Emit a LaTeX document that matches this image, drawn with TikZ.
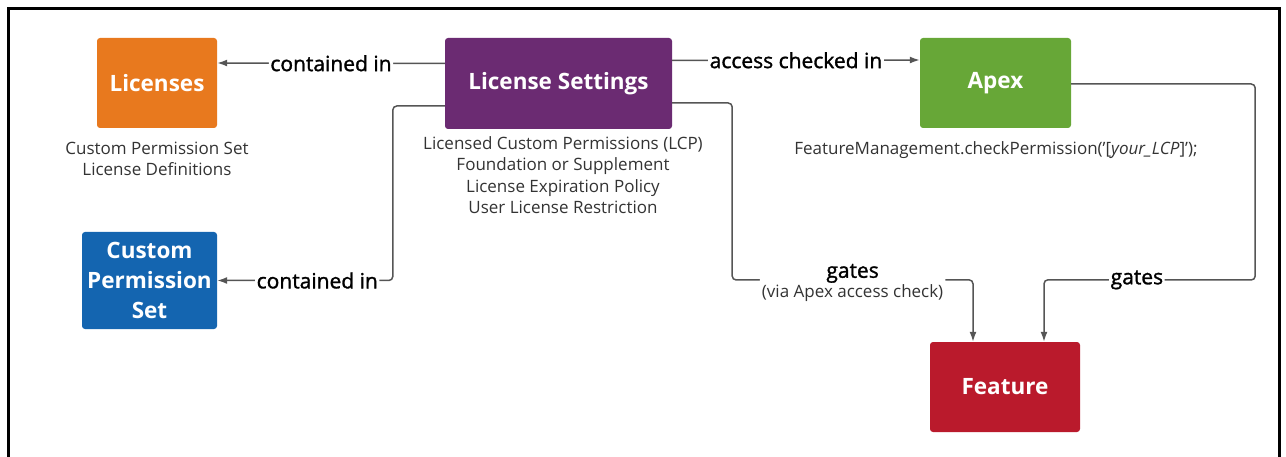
\documentclass[tikz,border=0pt]{standalone}
\usepackage{fontspec}
\setmainfont{Open Sans}
\newfontfamily\semib[FakeBold=1.4]{Open Sans}
\usetikzlibrary{arrows.meta,calc}
\definecolor{licorange}{HTML}{E8791E}
\definecolor{setpurple}{HTML}{6B2B72}
\definecolor{apexgreen}{HTML}{67A737}
\definecolor{cpsblue}{HTML}{1465B0}
\definecolor{featred}{HTML}{BA1A2C}
\definecolor{wire}{HTML}{555555}
\definecolor{note}{HTML}{333333}
\tikzset{
  box/.style={rounded corners=3pt, text=white, align=center, inner sep=0pt,
    font=\fontsize{22.5}{30}\selectfont\bfseries},
  desc/.style={align=center, text=note, inner sep=0pt,
    font=\fontsize{17}{21.5}\selectfont},
  conn/.style={draw=wire, line width=1.5pt, rounded corners=4pt,
    -{Latex[length=10pt,width=7pt]}},
  tag/.style={fill=white, text=black, inner sep=1.5pt,
    font=\semib\fontsize{21}{22}\selectfont},
}
\begin{document}
\begin{tikzpicture}[x=1pt,y=-1pt]
\useasboundingbox (0,0) rectangle (1286,457);
% outer frame, open at the bottom
\draw[line width=3pt] (8,470) -- (8,9) -- (1279,9) -- (1279,470);

% main boxes
\node[box, fill=licorange, minimum width=120pt, minimum height=90pt] (lic) at (157,83) {Licenses};
\node[box, fill=setpurple, minimum width=227pt, minimum height=91pt] (ls) at (558.5,83.5) {License Settings};
\node[box, fill=apexgreen, minimum width=151pt, minimum height=90pt] (apex) at (995.5,83) {Apex};
\node[box, fill=cpsblue, minimum width=135pt, minimum height=97pt] (cps) at (149.5,280.5) {Custom\\Permission\\Set};
\node[box, fill=featred, minimum width=150pt, minimum height=90pt] (feat) at (1005,387) {Feature};

% descriptions under the boxes
\node[desc] (licdesc) at (157,159) {Custom Permission Set\\License Definitions};
\node[desc] (lsdesc) at (563,175) {Licensed Custom Permissions (LCP)\\Foundation or Supplement\\License Expiration Policy\\User License Restriction};
\node[desc] (apexdesc) at (996,150) {FeatureManagement.checkPermission('[\textit{your\_LCP}]');};

% connectors
\draw[conn] ($(ls.west)+(0,-20)$) -- node[tag] {contained in} ($(lic.east)+(0,-20)$);
\draw[conn] ($(ls.west)+(0,22.5)$) -- ++(-52,0) -- ++(0,174.5)
  -- node[tag, pos=0.43] {contained in} (cps.east);
\draw[conn] ($(ls.east)+(0,-23)$) -- node[tag] {access checked in} ($(apex.west)+(0,-23)$);
\draw[conn] ($(ls.east)+(0,19.5)$) -- ++(60,0) -- ++(0,177)
  -- node[tag, align=center, pos=0.5, inner sep=2pt, yshift=-3pt] {gates\\[-2pt]{\normalfont\fontsize{17}{19}\selectfont\color{note}(via Apex access check)}} ($(feat.north)+(-32,-62)$)
  -- ($(feat.north)+(-32,0)$);
\draw[conn] ($(apex.east)+(0,1)$) -- ++(184,0) -- ++(0,196)
  -- node[tag, pos=0.56] {gates} ($(feat.north)+(39,-62)$)
  -- ($(feat.north)+(39,0)$);
\end{tikzpicture}
\end{document}
